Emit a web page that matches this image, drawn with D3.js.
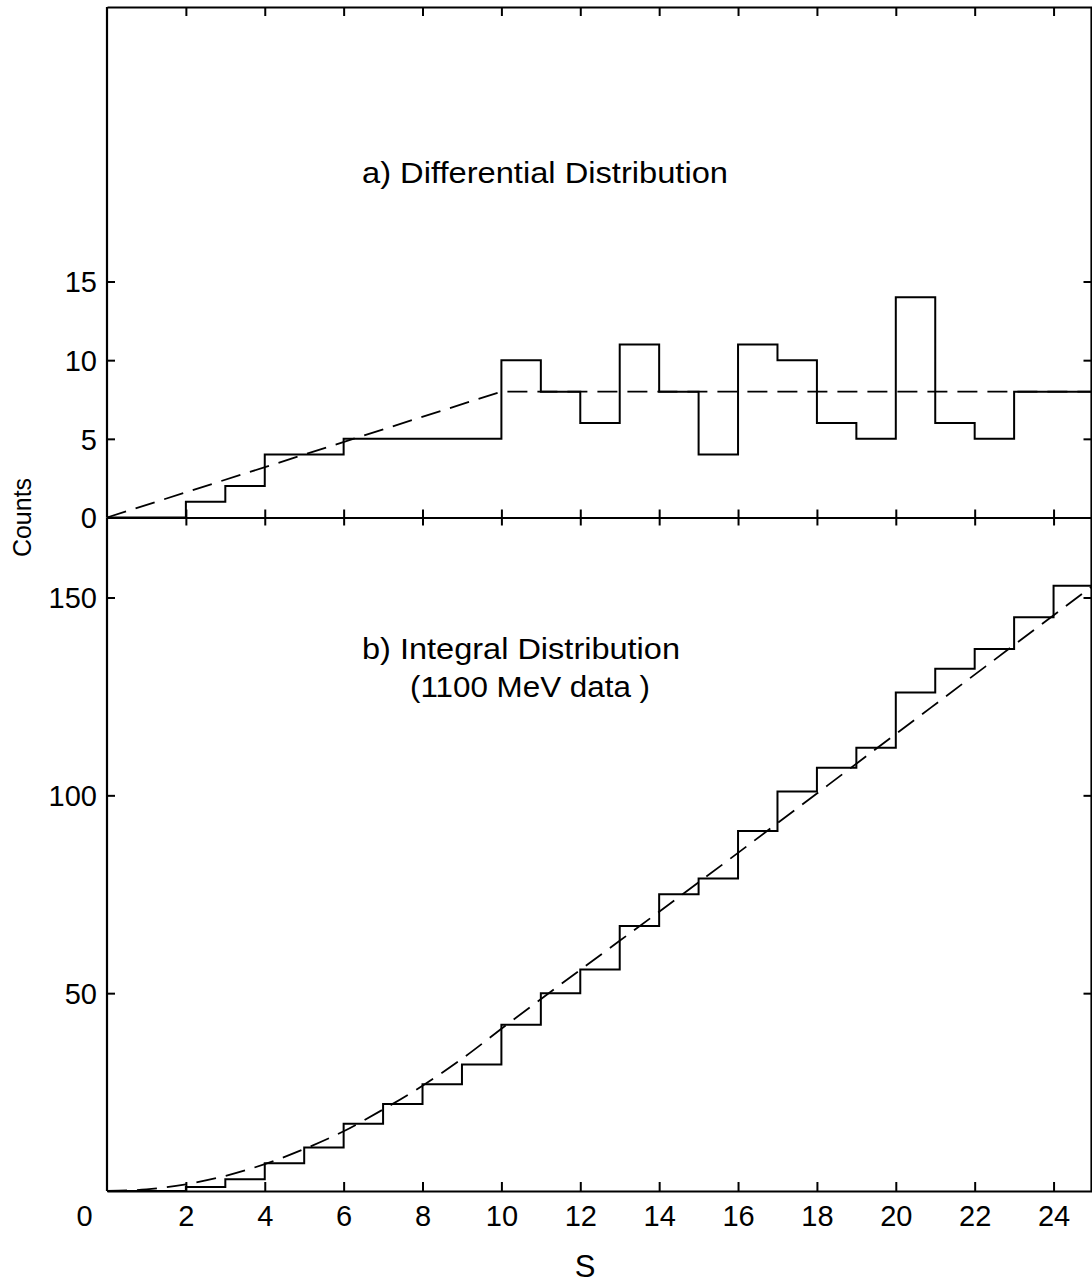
<!DOCTYPE html>
<html lang="en">
<head>
<meta charset="UTF-8">
<title>Differential and Integral Distribution</title>
<script src="https://d3js.org/d3.v7.min.js"></script>
<style>
    body { margin: 0; background: #fff; }
    svg { display: block; }
    .tick text, .label { font-family: "Liberation Sans", Arial, sans-serif; fill: #000; }
    .domain { stroke: #000; stroke-width: 2.2px; }
    .tick line { stroke: #000; stroke-width: 2px; }
    .hist { fill: none; stroke: #000; stroke-width: 2px; }
    .fit { fill: none; stroke: #000; stroke-width: 1.8px; stroke-dasharray: 20,10; }
</style>
</head>
<body>
<div id="chart"></div>
<script>
// bins start at S = 0..24, width 1
const binStart = [0, 1, 2, 3, 4, 5, 6, 7, 8, 9, 10, 11, 12, 13, 14, 15, 16, 17, 18, 19, 20, 21, 22, 23, 24];
const diffCounts = [0, 0, 1, 2, 4, 4, 5, 5, 5, 5, 10, 8, 6, 11, 8, 4, 11, 10, 6, 5, 14, 6, 5, 8, 8];
const intCounts = [0, 0, 1, 3, 7, 11, 17, 22, 27, 32, 42, 50, 56, 67, 75, 79, 91, 101, 107, 112, 126, 132, 137, 145, 153];

// dashed fits
const diffFitS = [0, 10, 25];
const diffFitY = [0, 8, 8];
const intFitS = [0, 1, 2, 3, 4, 5, 6, 7, 8, 9, 10, 15, 20, 25];
const intFitY = [0, 0.4, 1.7, 3.8, 6.8, 10.6, 15.1, 20.6, 26.6, 33.4, 41, 78, 115.5, 153];

const sTicks = [0, 2, 4, 6, 8, 10, 12, 14, 16, 18, 20, 22, 24];
const diffTicks = [0, 5, 10, 15];
const intTicks = [50, 100, 150];

const W = 1092, H = 1283;
const yTopEdge = 7, yMid = 517.5, yBottom = 1191;

const svg = d3.select("#chart").append("svg")
    .attr("width", W)
    .attr("height", H);

const x = d3.scaleLinear().domain([0, 25]).range([107, 1093]);
const yA = d3.scaleLinear().domain([0, 15]).range([yMid, 281.5]);
const yB = d3.scaleLinear().domain([0, 150]).range([yBottom, 597.5]);

function styleText(g, size) {
    g.selectAll(".tick text").style("font-size", size + "px");
}

// top frame
svg.append("g")
    .attr("transform", `translate(0,${yTopEdge})`)
    .call(d3.axisTop(x).tickValues(sTicks.slice(1)).tickSizeInner(-9).tickSizeOuter(0).tickFormat(""));

// left axis, upper panel
svg.append("g")
    .attr("transform", `translate(${x(0)},0)`)
    .call(d3.axisLeft(yA).tickValues(diffTicks).tickSizeInner(-8).tickSizeOuter(0).tickPadding(10))
    .call(g => g.select(".domain").attr("d", `M0,${yTopEdge}V${yMid}`))
    .call(g => styleText(g, 29))
    .call(g => g.selectAll(".tick text").attr("dy", "0.36em"));

// left axis, lower panel
svg.append("g")
    .attr("transform", `translate(${x(0)},0)`)
    .call(d3.axisLeft(yB).tickValues(intTicks).tickSizeInner(-8).tickSizeOuter(0).tickPadding(10))
    .call(g => g.select(".domain").attr("d", `M0,${yMid}V${yBottom}`))
    .call(g => styleText(g, 29))
    .call(g => g.selectAll(".tick text").attr("dy", "0.36em"));

// right side
svg.append("g")
    .attr("transform", `translate(${x(25) - 1.5},0)`)
    .call(d3.axisRight(yA).tickValues(diffTicks.slice(1)).tickSizeInner(-8).tickSizeOuter(0).tickFormat(""))
    .call(g => g.select(".domain").attr("d", `M0,${yTopEdge}V${yMid}`));
svg.append("g")
    .attr("transform", `translate(${x(25) - 1.5},0)`)
    .call(d3.axisRight(yB).tickValues(intTicks).tickSizeInner(-8).tickSizeOuter(0).tickFormat(""))
    .call(g => g.select(".domain").attr("d", `M0,${yMid}V${yBottom}`));

// middle axis, ticks crossing
svg.append("g")
    .attr("transform", `translate(0,${yMid})`)
    .call(d3.axisBottom(x).tickValues(sTicks.slice(1)).tickSize(8).tickSizeOuter(0).tickFormat(""));
svg.append("g")
    .attr("transform", `translate(0,${yMid})`)
    .call(d3.axisBottom(x).tickValues(sTicks.slice(1)).tickSize(-8).tickSizeOuter(0).tickFormat(""))
    .call(g => g.select(".domain").remove());

// bottom axis
svg.append("g")
    .attr("transform", `translate(0,${yBottom})`)
    .call(d3.axisBottom(x).tickValues(sTicks).tickSizeInner(-9).tickSizeOuter(0).tickPadding(14))
    .call(g => styleText(g, 29))
    .call(g => g.selectAll(".tick").filter(d => d === 0).select("line").remove())
    .call(g => g.selectAll(".tick").filter(d => d === 0).select("text").attr("dx", -23));

// histograms
const stepA = d3.line().x(d => x(d[0])).y(d => yA(d[1])).curve(d3.curveStepAfter);
const stepB = d3.line().x(d => x(d[0])).y(d => yB(d[1])).curve(d3.curveStepAfter);

const ptsA = binStart.map((s, i) => [s, diffCounts[i]]);
ptsA.push([25, diffCounts[diffCounts.length - 1]]);
const ptsB = binStart.map((s, i) => [s, intCounts[i]]);
ptsB.push([25, intCounts[intCounts.length - 1]]);

svg.append("path").attr("class", "hist").attr("d", stepA(ptsA));
svg.append("path").attr("class", "hist").attr("d", stepB(ptsB));

// dashed fits
const fitA = d3.line().x((d, i) => x(diffFitS[i])).y(d => yA(d));
const fitB = d3.line().x((d, i) => x(intFitS[i])).y(d => yB(d)).curve(d3.curveMonotoneX);

svg.append("path").attr("class", "fit").attr("d", fitA(diffFitY));
svg.append("path").attr("class", "fit").attr("d", fitB(intFitY));

// text
svg.append("text").attr("class", "label")
    .attr("x", 362).attr("y", 183)
    .style("font-size", "29px")
    .attr("textLength", 366).attr("lengthAdjust", "spacingAndGlyphs")
    .text("a)  Differential  Distribution");

svg.append("text").attr("class", "label")
    .attr("x", 362).attr("y", 659)
    .style("font-size", "29px")
    .attr("textLength", 318).attr("lengthAdjust", "spacingAndGlyphs")
    .text("b)  Integral  Distribution");

svg.append("text").attr("class", "label")
    .attr("x", 410).attr("y", 697)
    .style("font-size", "29px")
    .attr("textLength", 240).attr("lengthAdjust", "spacingAndGlyphs")
    .text("(1100  MeV  data )");

svg.append("text").attr("class", "label")
    .attr("transform", `translate(31,${yMid}) rotate(-90)`)
    .attr("text-anchor", "middle")
    .style("font-size", "25px")
    .text("Counts");

svg.append("text").attr("class", "label")
    .attr("x", 585).attr("y", 1277)
    .attr("text-anchor", "middle")
    .style("font-size", "31px")
    .text("S");
</script>
</body>
</html>
